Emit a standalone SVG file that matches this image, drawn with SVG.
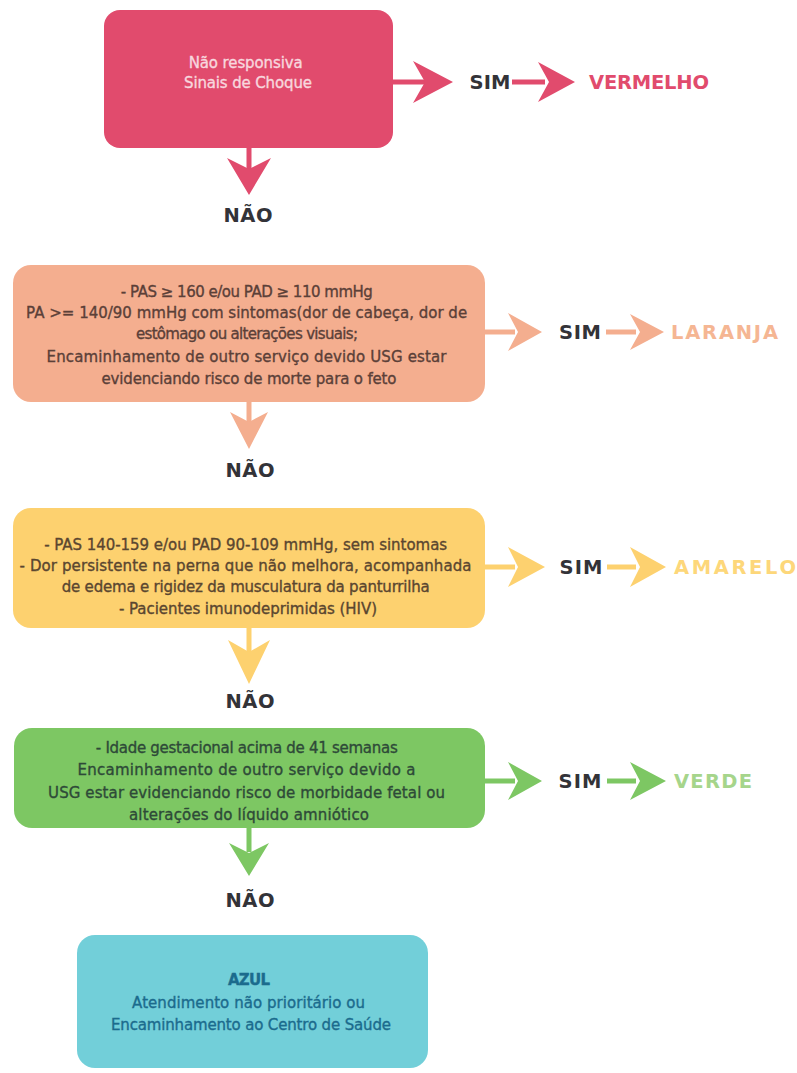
<svg xmlns="http://www.w3.org/2000/svg" width="797" height="1073" viewBox="0 0 797 1073">
  <style>
    .box-text { font-family: "DejaVu Sans", "Liberation Sans", sans-serif; font-size: 15px; text-anchor: middle; stroke-width: 0.35px; }
    .label { font-family: "DejaVu Sans", "Liberation Sans", sans-serif; font-size: 19.5px; font-weight: bold; fill: #333338; }
    .mid { text-anchor: middle; }
    .red { fill: #e14b6d; }
    .orange { fill: #f4ae8f; }
    .yellow { fill: #fdd16f; }
    .green { fill: #7dc763; }
    .blue { fill: #72cfd9; }
    .line-red { stroke: #e14b6d; stroke-width: 5; }
    .line-orange { stroke: #f4ae8f; stroke-width: 5; }
    .line-yellow { stroke: #fdd16f; stroke-width: 5; }
    .line-green { stroke: #7dc763; stroke-width: 5; }
  </style>
  <rect width="797" height="1073" fill="#ffffff"/>

  <!-- Decision boxes -->
  <g id="node-vermelho">
    <rect x="104" y="10" width="289" height="138" rx="16" class="red"/>
    <text class="box-text" fill="#f8d7de" stroke="#f8d7de">
      <tspan x="248" y="68" textLength="114">Não responsiva</tspan>
      <tspan x="248" y="88" textLength="128">Sinais de Choque</tspan>
    </text>
  </g>

  <g id="node-laranja">
    <rect x="13" y="265" width="472" height="137" rx="18" class="orange"/>
    <text class="box-text" fill="#5b4038" stroke="#5b4038">
      <tspan x="249" y="297" textLength="252">- PAS ≥ 160 e/ou PAD ≥ 110 mmHg</tspan>
      <tspan x="249" y="318" textLength="441">PA &gt;= 140/90 mmHg com sintomas(dor de cabeça, dor de</tspan>
      <tspan x="249" y="339" textLength="222">estômago ou alterações visuais;</tspan>
      <tspan x="249" y="362" textLength="400">Encaminhamento de outro serviço devido USG estar</tspan>
      <tspan x="249" y="384" textLength="295">evidenciando risco de morte para o feto</tspan>
    </text>
  </g>

  <g id="node-amarelo">
    <rect x="13" y="508" width="472" height="120" rx="18" class="yellow"/>
    <text class="box-text" fill="#5a4630" stroke="#5a4630">
      <tspan x="248" y="550" textLength="403">- PAS 140-159 e/ou PAD 90-109 mmHg, sem sintomas</tspan>
      <tspan x="248" y="571" textLength="452">- Dor persistente na perna que não melhora, acompanhada</tspan>
      <tspan x="248" y="592" textLength="368">de edema e rigidez da musculatura da panturrilha</tspan>
      <tspan x="248" y="614" textLength="258">- Pacientes imunodeprimidas (HIV)</tspan>
    </text>
  </g>

  <g id="node-verde">
    <rect x="14" y="728" width="471" height="100" rx="18" class="green"/>
    <text class="box-text" fill="#2e4a38" stroke="#2e4a38">
      <tspan x="249" y="753" textLength="302">- Idade gestacional acima de 41 semanas</tspan>
      <tspan x="249" y="775" textLength="338">Encaminhamento de outro serviço devido a</tspan>
      <tspan x="249" y="798" textLength="397">USG estar evidenciando risco de morbidade fetal ou</tspan>
      <tspan x="249" y="820" textLength="240">alterações do líquido amniótico</tspan>
    </text>
  </g>

  <g id="node-azul">
    <rect x="77" y="935" width="351" height="133" rx="18" class="blue"/>
    <text class="box-text" fill="#1b6b8d" stroke="#1b6b8d">
      <tspan x="251" y="985" font-weight="bold" textLength="42">AZUL</tspan>
      <tspan x="251" y="1008" textLength="233">Atendimento não prioritário ou</tspan>
      <tspan x="251" y="1030" textLength="280">Encaminhamento ao Centro de Saúde</tspan>
    </text>
  </g>

  <!-- Connectors -->
  <g id="connectors">
    <!-- row 1 -->
    <line x1="393" y1="82" x2="428" y2="82" class="line-red"/>
    <path d="M453,82 L413,61 L425,82 L413,103 Z" class="red"/>
    <line x1="512" y1="82" x2="545" y2="82" class="line-red"/>
    <path d="M575,82 L538,62 L549,82 L538,102 Z" class="red"/>
    <line x1="249" y1="148" x2="249" y2="170" class="line-red"/>
    <path d="M249,195 L227,158 L249,169 L271,158 Z" class="red"/>

    <!-- row 2 -->
    <line x1="485" y1="332" x2="515" y2="332" class="line-orange"/>
    <path d="M542,332 L508,313 L518,332 L508,351 Z" class="orange"/>
    <line x1="606" y1="332" x2="636" y2="332" class="line-orange"/>
    <path d="M664,332 L630,314 L640,332 L630,350 Z" class="orange"/>
    <line x1="249" y1="402" x2="249" y2="422" class="line-orange"/>
    <path d="M249,449 L230,412 L249,422 L268,412 Z" class="orange"/>

    <!-- row 3 -->
    <line x1="485" y1="567" x2="515" y2="567" class="line-yellow"/>
    <path d="M545,567 L508,547 L518,567 L508,587 Z" class="yellow"/>
    <line x1="607" y1="567" x2="636" y2="567" class="line-yellow"/>
    <path d="M666,567 L630,547 L640,567 L630,587 Z" class="yellow"/>
    <line x1="249" y1="628" x2="249" y2="652" class="line-yellow"/>
    <path d="M249,684 L228,640 L249,652 L270,640 Z" class="yellow"/>

    <!-- row 4 -->
    <line x1="485" y1="781" x2="515" y2="781" class="line-green"/>
    <path d="M542,781 L508,762 L518,781 L508,800 Z" class="green"/>
    <line x1="607" y1="781" x2="636" y2="781" class="line-green"/>
    <path d="M666,781 L630,762 L640,781 L630,800 Z" class="green"/>
    <line x1="249" y1="828" x2="249" y2="852" class="line-green"/>
    <path d="M249,876 L229,843 L249,853 L269,843 Z" class="green"/>
  </g>

  <!-- Answer labels -->
  <g id="labels">
    <text x="490" y="89" class="label mid" textLength="41">SIM</text>
    <text x="589" y="89" class="label" style="fill:#e14b6d" textLength="120">VERMELHO</text>
    <text x="248" y="222" class="label mid" textLength="49">NÃO</text>

    <text x="580" y="339" class="label mid" textLength="42">SIM</text>
    <text x="671" y="339" class="label" style="fill:#f5b693" textLength="107">LARANJA</text>
    <text x="250" y="477" class="label mid" textLength="49">NÃO</text>

    <text x="581" y="574" class="label mid" textLength="43">SIM</text>
    <text x="674" y="574" class="label" style="fill:#fdd77a" textLength="122">AMARELO</text>
    <text x="250" y="708" class="label mid" textLength="49">NÃO</text>

    <text x="580" y="788" class="label mid" textLength="43">SIM</text>
    <text x="674" y="788" class="label" style="fill:#a6d58b" textLength="78">VERDE</text>
    <text x="250" y="907" class="label mid" textLength="49">NÃO</text>
  </g>
</svg>
